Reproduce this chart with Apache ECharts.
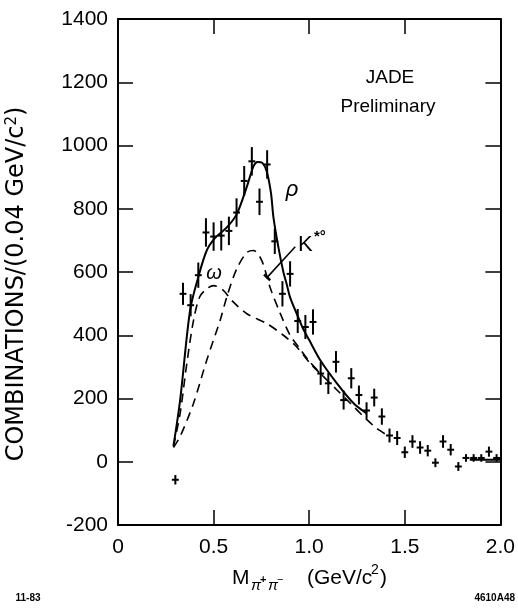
<!DOCTYPE html>
<html>
<head>
<meta charset="utf-8">
<script src="https://cdn.jsdelivr.net/npm/echarts@6/dist/echarts.min.js"></script>
<style>
html,body{margin:0;padding:0;background:#fff;}
#c{width:518px;height:608px;}
</style>
</head>
<body>
<div id="c"></div>
<script>
// ---- data ----
var massBins = [0.30,0.34,0.38,0.42,0.46,0.50,0.54,0.58,0.62,0.66,0.70,0.74,0.78,0.82,0.86,0.90,0.94,0.98,1.02,1.06,1.10,1.14,1.18,1.22,1.26,1.30,1.34,1.38,1.42,1.46,1.50,1.54,1.58,1.62,1.66,1.70,1.74,1.78,1.82,1.86,1.90,1.94,1.98];
var combinations = [-57,531,495,590,725,712,715,730,788,888,950,822,940,697,531,594,445,426,442,279,248,316,195,264,211,162,203,143,83,75,30,64,45,35,-3,64,38,-15,12,12,12,32,12];
var errors = [15,35,35,40,45,45,47,45,45,47,45,42,45,40,40,40,38,38,40,36,34,34,30,32,30,26,28,26,22,22,18,20,20,18,14,20,18,14,12,12,12,16,12];
var binHalfWidth = 0.018;

var totalFitX = [0.29,0.325,0.377,0.42,0.464,0.508,0.569,0.621,0.674,0.709,0.73,0.755,0.778,0.80,0.813,0.839,0.865,0.883,0.90,0.944,0.97,1.0,1.058,1.145,1.232,1.30,null,1.84,2.0];
var totalFitY = [50,195,479,584,668,708,741,783,870,935,948,945,918,850,773,678,600,560,520,455,418,385,321,248,185,153,null,6,6];

var omegaX = [0.29,0.325,0.36,0.395,0.427,0.464,0.50,0.551,0.595,0.674,0.778,0.865,0.935,1.005,1.075,1.145,1.215,1.284,1.354,1.406];
var omegaY = [48,153,311,447,521,547,557,542,510,468,437,400,363,311,269,227,185,143,105,85];

var kstarX = [0.29,0.325,0.395,0.464,0.534,0.569,0.621,0.674,0.709,0.752,0.796,0.848,0.90,0.944,1.0,1.075];
var kstarY = [45,80,185,321,447,521,610,662,668,636,550,470,400,363,318,269];

var xTicks = {min:0, max:2, interval:0.5};
var yTicks = {min:-200, max:1400, interval:200};

var kArrowX = [0.927, 0.78];
var kArrowY = [680, 583];
var kArrowEndX = [0.764, 0.796];
var kArrowEndY = [592, 574];

function pairs(xs, ys){
  var out=[];
  for(var i=0;i<xs.length;i++){
    out.push(xs[i]===null ? [null,null] : [xs[i], ys[i]]);
  }
  return out;
}
var pts = massBins.map(function(x,i){return [x, combinations[i], errors[i]];});

var FONT = "'Liberation Sans', Arial, sans-serif";
var chart = echarts.init(document.getElementById('c'), null, {renderer:'canvas'});

var axisCommon = {
  type:'value',
  axisLine:{show:true, onZero:false, lineStyle:{color:'#000', width:2}},
  axisTick:{show:true, inside:true, length:15, lineStyle:{color:'#000', width:1.5}},
  splitLine:{show:false}
};

function lbl(v){ return v===0 ? '0' : v.toFixed(1); }
function ylbl(v){ return String(v); }

var option = {
  backgroundColor:'#fff',
  animation:false,
  grid:{left:118, right:16, top:19, bottom:83},
  xAxis:[
    Object.assign({}, axisCommon, {position:'bottom', min:xTicks.min, max:xTicks.max, interval:xTicks.interval,
      axisLabel:{show:true, color:'#000', fontSize:21, fontFamily:FONT, margin:12, formatter:lbl}}),
    Object.assign({}, axisCommon, {position:'top', min:xTicks.min, max:xTicks.max, interval:xTicks.interval,
      axisLabel:{show:false}})
  ],
  yAxis:[
    Object.assign({}, axisCommon, {position:'left', min:yTicks.min, max:yTicks.max, interval:yTicks.interval,
      axisLabel:{show:true, color:'#000', fontSize:21, fontFamily:FONT, margin:10, formatter:ylbl}}),
    Object.assign({}, axisCommon, {position:'right', min:yTicks.min, max:yTicks.max, interval:yTicks.interval,
      axisLabel:{show:false}})
  ],
  series:[
    {type:'line', data:pairs(totalFitX,totalFitY), smooth:0.3, showSymbol:false, connectNulls:false,
      lineStyle:{color:'#000', width:2}},
    {type:'line', data:pairs(omegaX,omegaY), smooth:0.3, showSymbol:false,
      lineStyle:{color:'#000', width:1.6, type:[9,6]}},
    {type:'line', data:pairs(kstarX,kstarY), smooth:0.3, showSymbol:false,
      lineStyle:{color:'#000', width:1.6, type:[9,6]}},
    {type:'line', data:pairs(kArrowX,kArrowY), showSymbol:false,
      lineStyle:{color:'#000', width:1.5}},
    {type:'line', data:pairs(kArrowEndX,kArrowEndY), showSymbol:false,
      lineStyle:{color:'#000', width:2.5}},
    {type:'custom', data:pts,
      renderItem:function(params, api){
        var x=api.value(0), y=api.value(1), e=api.value(2);
        var a=api.coord([x,y-e]), b=api.coord([x,y+e]);
        var c=api.coord([x-binHalfWidth,y]), d=api.coord([x+binHalfWidth,y]);
        return {type:'group', children:[
          {type:'line', shape:{x1:a[0],y1:a[1],x2:b[0],y2:b[1]}, style:{stroke:'#000', lineWidth:2}},
          {type:'line', shape:{x1:c[0],y1:c[1],x2:d[0],y2:d[1]}, style:{stroke:'#000', lineWidth:2}}
        ]};
      }}
  ],
  graphic:[
    {type:'text', x:17, y:284, rotation:Math.PI/2,
      style:{text:'COMBINATIONS/(0.04 GeV/c{s|2})', font:"24px 'DejaVu Sans', sans-serif", fill:'#000', align:'center', verticalAlign:'middle',
        rich:{s:{fontSize:15, fontFamily:'DejaVu Sans', verticalAlign:'top', padding:[0,0,10,0]}}}},
    {type:'text', x:232, y:578, style:{text:'M', font:"21px "+FONT, fill:'#000', align:'left', verticalAlign:'middle'}},
    {type:'text', x:251, y:586, style:{text:'π', font:"italic 15px "+FONT, fill:'#000', align:'left', verticalAlign:'middle'}},
    {type:'text', x:260, y:580, style:{text:'+', font:"bold 11px "+FONT, fill:'#000', align:'left', verticalAlign:'middle'}},
    {type:'text', x:268, y:586, style:{text:'π', font:"italic 15px "+FONT, fill:'#000', align:'left', verticalAlign:'middle'}},
    {type:'text', x:277, y:580, style:{text:'−', font:"11px "+FONT, fill:'#000', align:'left', verticalAlign:'middle'}},
    {type:'text', x:307, y:578, style:{text:'(GeV/c', font:"21px "+FONT, fill:'#000', align:'left', verticalAlign:'middle'}},
    {type:'text', x:371, y:570, style:{text:'2', font:"14px "+FONT, fill:'#000', align:'left', verticalAlign:'middle'}},
    {type:'text', x:380, y:578, style:{text:')', font:"21px "+FONT, fill:'#000', align:'left', verticalAlign:'middle'}},
    {type:'text', x:28, y:598, style:{text:'11-83', font:"bold 10px "+FONT, fill:'#000', align:'center', verticalAlign:'middle'}},
    {type:'text', x:515, y:598, style:{text:'4610A48', font:"bold 10px "+FONT, fill:'#000', align:'right', verticalAlign:'middle'}},
    {type:'text', x:390, y:78, style:{text:'JADE', font:"19px "+FONT, fill:'#000', align:'center', verticalAlign:'middle'}},
    {type:'text', x:388, y:107, style:{text:'Preliminary', font:"19px "+FONT, fill:'#000', align:'center', verticalAlign:'middle'}},
    {type:'text', x:292, y:190, style:{text:'ρ', font:"italic 22px "+FONT, fill:'#000', align:'center', verticalAlign:'middle'}},
    {type:'text', x:214, y:273, style:{text:'ω', font:"italic 20px "+FONT, fill:'#000', align:'center', verticalAlign:'middle'}},
    {type:'text', x:298, y:245, style:{text:'K', font:"22px "+FONT, fill:'#000', align:'left', verticalAlign:'middle'}},
    {type:'text', x:314, y:237, style:{text:'*°', font:"bold 15px "+FONT, fill:'#000', align:'left', verticalAlign:'middle'}}
  ]
};
chart.setOption(option);
</script>
</body>
</html>
